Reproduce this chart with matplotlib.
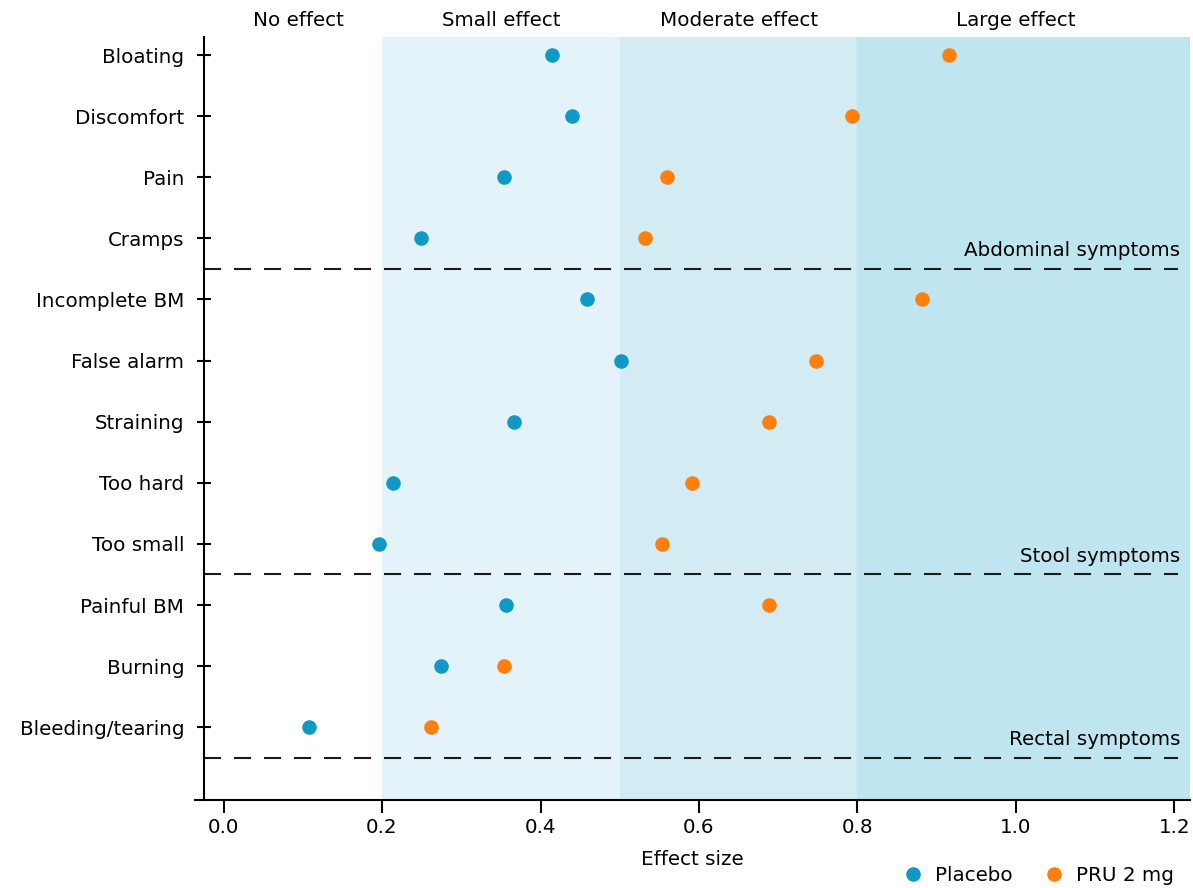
import matplotlib
matplotlib.use("Agg")
import matplotlib.pyplot as plt
import matplotlib.transforms as mtransforms

plt.rcParams['font.family'] = ['DejaVu Sans']

# symptom rows, top to bottom
symptoms = ["Bloating", "Discomfort", "Pain", "Cramps",
            "Incomplete BM", "False alarm", "Straining", "Too hard", "Too small",
            "Painful BM", "Burning", "Bleeding/tearing"]
placebo = [0.414, 0.440, 0.354, 0.249, 0.459, 0.502, 0.367, 0.214, 0.196, 0.356, 0.274, 0.108]
pru_2mg = [0.915, 0.793, 0.560, 0.532, 0.881, 0.748, 0.688, 0.591, 0.553, 0.688, 0.354, 0.262]

# effect size bands
band_edges = [0.2, 0.5, 0.8, 1.25]
band_colors = ["#e4f3f9", "#d3ecf4", "#bfe5f0"]
band_names = ["No effect", "Small effect", "Moderate effect", "Large effect"]
band_label_x = [0.095, 0.35, 0.65, 1.0]

# groups: (label, separator position after last row)
groups = [("Abdominal symptoms", 3.5), ("Stool symptoms", 8.5), ("Rectal symptoms", 11.5)]

blue = "#1199c5"
orange = "#ff7f0e"
fs = 14.3

fig = plt.figure(figsize=(11.93, 8.88), dpi=100)
ax = fig.add_axes([195 / 1193, 1 - 800 / 888, (1190 - 195) / 1193, (800 - 37) / 888])

x0 = -0.025
ax.set_xlim(-0.036, 1.2196)
ax.set_ylim(12.19, -0.295)

for i in range(3):
    ax.axvspan(band_edges[i], band_edges[i + 1], color=band_colors[i], lw=0, zorder=0)

ypos = list(range(len(symptoms)))
ax.plot(placebo, ypos, 'o', color=blue, ms=10.5, mew=0, label="Placebo", zorder=3)
ax.plot(pru_2mg, ypos, 'o', color=orange, ms=10.5, mew=0, label="PRU 2 mg", zorder=3)

for name, yline in groups:
    ax.plot([x0, 1.205], [yline, yline], color="#1a1a1a", lw=1.5, dashes=(8.2, 6.2), zorder=2)
    ax.text(1.207, yline - 0.3, name, ha='right', va='center', fontsize=fs, zorder=4)

trans = mtransforms.blended_transform_factory(ax.transData, ax.transAxes)
for name, xc in zip(band_names, band_label_x):
    ax.text(xc, 1.022, name, transform=trans, ha='center', va='center', fontsize=fs)

ax.spines['top'].set_visible(False)
ax.spines['right'].set_visible(False)
ax.spines['left'].set_position(('data', x0))
for s in ['left', 'bottom']:
    ax.spines[s].set_linewidth(1.5)

ax.set_yticks(ypos)
ax.set_yticklabels(symptoms, fontsize=fs)
ax.tick_params(axis='y', direction='inout', length=10, width=1.5, pad=9)

ax.set_xticks([0.0, 0.2, 0.4, 0.6, 0.8, 1.0, 1.2])
ax.set_xticklabels(["0.0", "0.2", "0.4", "0.6", "0.8", "1.0", "1.2"], fontsize=fs)
ax.tick_params(axis='x', direction='out', length=9, width=1.5, pad=4)
ax.set_xlabel("Effect size", fontsize=fs, labelpad=9)

fig.legend(loc='lower right', bbox_to_anchor=(1192 / 1193, -0.017), ncol=2, frameon=False,
           fontsize=fs, handletextpad=0.1, columnspacing=1.1, markerscale=1.0)

fig.savefig("out.png", dpi=100)
